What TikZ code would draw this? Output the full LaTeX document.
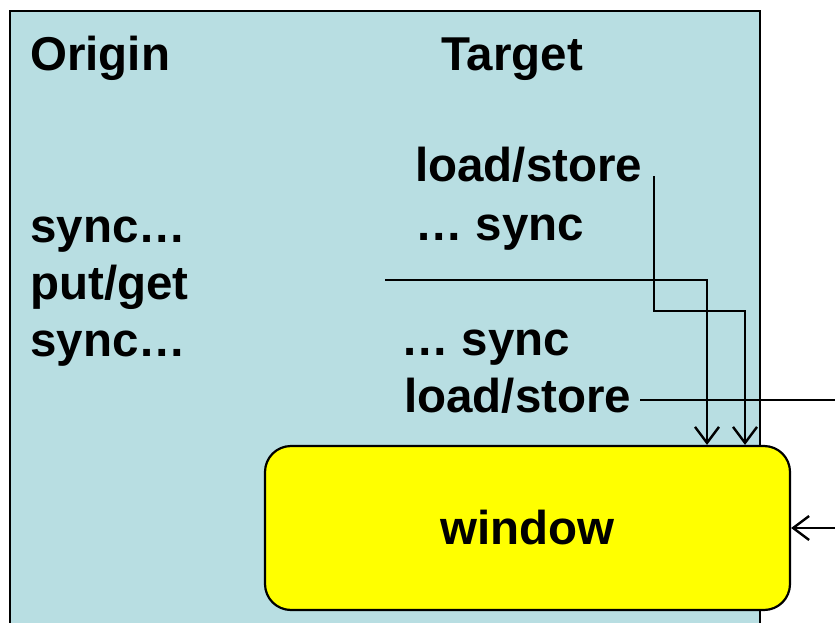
\documentclass[tikz,border=0pt]{standalone}
\usepackage{fontspec}
\setmainfont{Liberation Sans}
\usetikzlibrary{arrows.meta}
\definecolor{panelblue}{RGB}{184,222,226}
\definecolor{winyellow}{RGB}{255,255,0}
\tikzset{
  lbl/.style={anchor=base west, inner sep=0pt, font=\fontsize{47.5}{56}\selectfont\bfseries},
  wire/.style={line width=2.2pt, line join=miter},
  arr/.style={wire, -{Straight Barb[length=16pt, width=24pt, line width=2.4pt]}},
}
\begin{document}
\begin{tikzpicture}[x=1pt, y=-1pt]
  \useasboundingbox (0,0) rectangle (835,623);
  % node panel
  \draw[line width=2.2pt, fill=panelblue] (10,11) rectangle (760,650);
  % column headings
  \node[lbl] (origin) at (30,71) {Origin};
  \node[lbl] (target) at (441,71) {Target};
  % origin side
  \node[lbl] (osync1) at (30,242) {sync…};
  \node[lbl] (putget) at (30,299) {put/get};
  \node[lbl] (osync2) at (30,356) {sync…};
  % target side
  \node[lbl] (ls1) at (415,181) {load/store};
  \node[lbl] (tsync1) at (415,240) {… sync};
  \node[lbl] (tsync2) at (401,355) {… sync};
  \node[lbl] (ls2) at (404,412) {load/store};
  % memory window
  \node[draw, line width=2.2pt, fill=winyellow, rounded corners=26pt,
        minimum width=525pt, minimum height=164pt, inner sep=0pt,
        font=\fontsize{47.5}{56}\selectfont\bfseries]
        (win) at (527.5,528) {\raisebox{-7pt}{window}};
  % free ends and bends of the connectors
  \coordinate (ls1out) at (654,176);
  \coordinate (pgout) at (385,280);
  \coordinate (pgbend) at (707,280);
  \coordinate (lsbend) at (745,311);
  \coordinate (ls2out) at (640,400);
  \coordinate (ext1) at (836,400);
  \coordinate (ext2) at (836,528);
  % connectors
  \draw[arr] (pgout) -- (pgbend) -- (pgbend |- win.north);
  \draw[arr] (ls1out) |- (lsbend) -- (lsbend |- win.north);
  \draw[wire] (ls2out) -- (ext1);
  \draw[arr] (ext2) -- (win.east);
\end{tikzpicture}
\end{document}
